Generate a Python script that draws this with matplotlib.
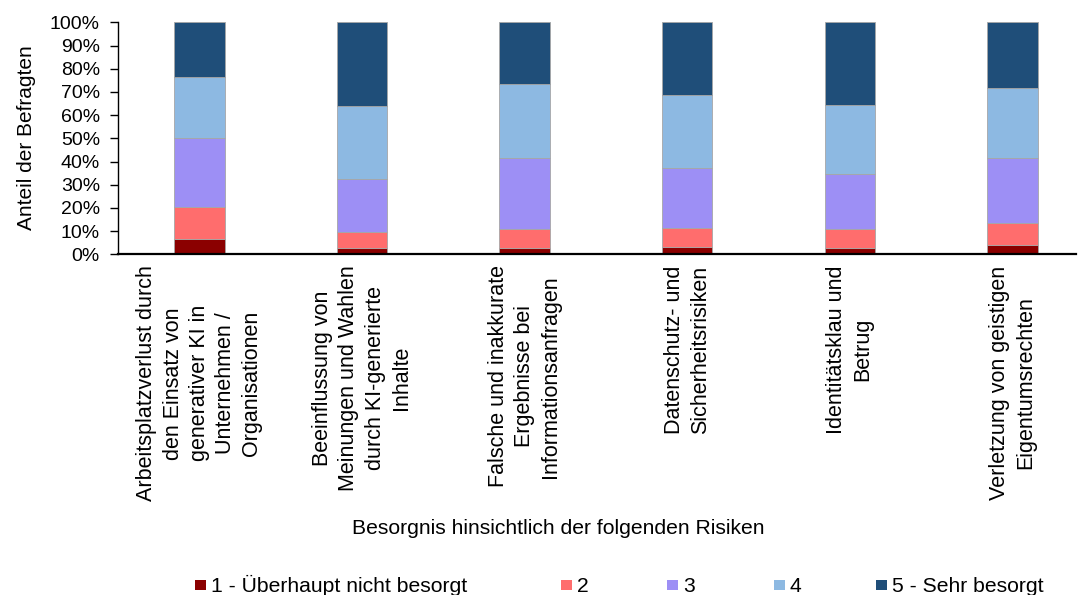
import matplotlib
matplotlib.use("Agg")
import matplotlib.pyplot as plt
from matplotlib.patches import Rectangle
from matplotlib.ticker import PercentFormatter

plt.rcParams['font.family'] = ['Liberation Sans', 'DejaVu Sans']

categories = [
    "Arbeitsplatzverlust durch\nden Einsatz von\ngenerativer KI in\nUnternehmen /\nOrganisationen",
    "Beeinflussung von\nMeinungen und Wahlen\ndurch KI-generierte\nInhalte",
    "Falsche und inakkurate\nErgebnisse bei\nInformationsanfragen",
    "Datenschutz- und\nSicherheitsrisiken",
    "Identitätsklau und\nBetrug",
    "Verletzung von geistigen\nEigentumsrechten",
]
series_names = ["1 - Überhaupt nicht besorgt", "2", "3", "4", "5 - Sehr besorgt"]
s1 = [6.7, 2.6, 2.6, 3.0, 2.7, 3.9]
s2 = [13.6, 7.2, 8.4, 8.5, 8.1, 9.5]
s3 = [30.0, 22.7, 30.4, 25.8, 23.9, 28.0]
s4 = [26.0, 31.3, 32.0, 31.4, 29.8, 30.4]
s5 = [23.7, 36.2, 26.6, 31.3, 35.5, 28.2]
series = [s1, s2, s3, s4, s5]
colors = ["#8B0000", "#FF6D6D", "#9D8FF5", "#8DB9E2", "#1F4E79"]
yticks = list(range(0, 101, 10))

W, H = 1078, 595
fig = plt.figure(figsize=(W / 100, H / 100), dpi=100)
left, right, top, bottom = 118, 1076, 22.3, 254.3
ax = fig.add_axes([left / W, 1 - bottom / H, (right - left) / W, (bottom - top) / H])

x = list(range(len(categories)))
base = [0.0] * len(categories)
for vals, col in zip(series, colors):
    ax.bar(x, vals, bottom=base, width=0.31, color=col, edgecolor="#A6A6A6",
           linewidth=0.6, zorder=2)
    base = [b + v for b, v in zip(base, vals)]

ax.set_xlim(-0.5, 5.39)
ax.set_ylim(0, 100)
ax.set_yticks(yticks)
ax.yaxis.set_major_formatter(PercentFormatter(decimals=0))
ax.tick_params(axis='y', labelsize=14, length=6, width=1.0, pad=7, color='black')
ax.set_xticks(x)
ax.set_xticklabels(categories, rotation=90, fontsize=15.5, ha='center', va='top',
                   multialignment='center', linespacing=1.33)
ax.tick_params(axis='x', length=0, pad=8)
for s in ['top', 'right']:
    ax.spines[s].set_visible(False)
ax.spines['left'].set_linewidth(1.0)
ax.spines['bottom'].set_linewidth(1.6)
ax.set_ylabel("Anteil der Befragten", fontsize=15)
ax.yaxis.set_label_coords(36 / W, 1 - 138 / H, transform=fig.transFigure)

fig.text(558 / W, 1 - 528 / H, "Besorgnis hinsichtlich der folgenden Risiken",
         fontsize=15.2, ha='center', va='center')

# legend
sq_x = [195, 561, 667, 774, 876]
for name, col, sx in zip(series_names, colors, sq_x):
    fig.patches.append(Rectangle((sx / W, 1 - 590 / H), 11 / W, 10 / H,
                                 transform=fig.transFigure, facecolor=col,
                                 edgecolor='none'))
    fig.text((sx + 16) / W, 1 - 591.5 / H, name, fontsize=15.2, ha='left',
             va='baseline')

fig.savefig("out.png", dpi=100)
